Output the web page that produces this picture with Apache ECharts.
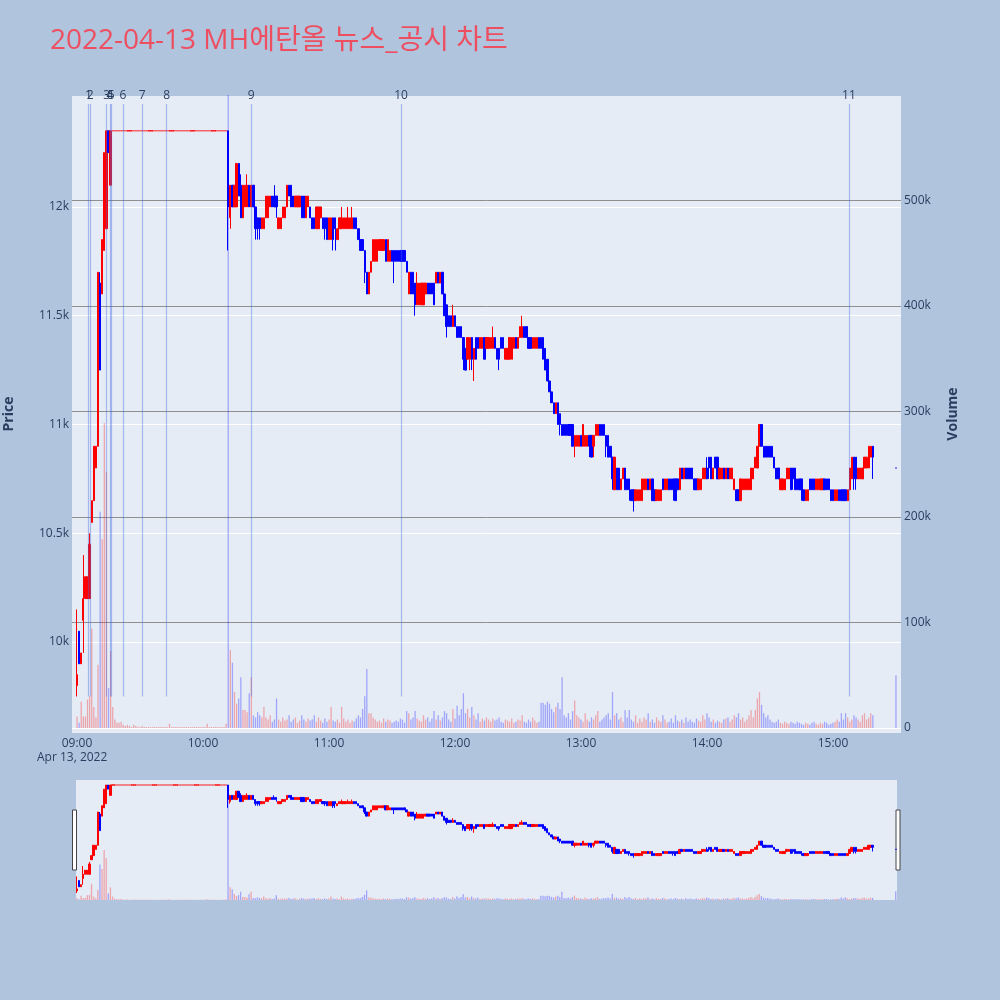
<!DOCTYPE html>
<html><head><meta charset="utf-8">
<script src="https://cdn.jsdelivr.net/npm/echarts@6/dist/echarts.min.js"></script>
<style>html,body{margin:0;padding:0;background:#b0c4de}#c{width:1000px;height:1000px}</style>
</head><body><div id="c"></div>
<script>
// ---- data (minute candles, 2022-04-13) ----
const opens = [
 9800,10050,9900,10100,10200,10200,10200,10550,10650,10800,
 10900,11650,11600,11800,11900,12350,12100,
 12350,12350,12350,12350,12350,12350,12350,12350,12350,12350,12350,
 12350,12350,12350,12350,12350,12350,12350,12350,12350,12350,12350,
 12350,12350,12350,12350,12350,12350,12350,12350,12350,12350,12350,
 12350,12350,12350,12350,12350,12350,12350,12350,12350,12350,12350,
 12350,12350,12350,12350,12350,12350,12350,12350,12350,12350,12350,
 12350,11950,12100,12000,12000,12200,12100,11950,
 12000,12000,12100,12000,12100,12000,11950,11950,11900,11900,
 11950,11950,12000,12050,12050,12050,11900,11900,11950,11950,
 12000,12100,12100,12050,12000,12000,12000,12050,12050,11950,
 12000,12000,11950,11950,11900,11900,11950,11950,11950,11950,
 11850,11850,11950,11950,11850,11900,11900,11900,11900,11900,
 11900,11900,11950,11950,11900,11850,11850,11800,11700,11600,
 11700,11750,11750,11750,11800,11800,11800,11850,11750,11750,
 11800,11800,11800,11800,11800,11800,11800,11750,11600,11700,
 11700,11650,11550,11550,11550,11550,11600,11650,11650,11650,
 11650,11650,11700,11650,11700,11600,11550,11500,11500,11450,
 11500,11450,11450,11450,11400,11350,11300,11300,11400,11300,
 11400,11400,11350,11350,11400,11350,11350,11350,11350,11400,
 11350,11350,11400,11400,11300,11300,11300,11300,11350,11400,
 11350,11400,11400,11450,11450,11400,11400,11350,11350,11350,
 11400,11400,11400,11350,11300,11200,11150,11100,11050,11100,
 11050,11000,11000,11000,11000,11000,11000,10900,10900,10900,
 10950,10900,10900,10900,10950,10950,10900,10950,10950,11000,
 11000,11000,10950,10950,10900,10850,10700,10800,10800,10700,
 10750,10800,10750,10750,10700,10700,10650,10650,10650,10650,
 10700,10700,10750,10700,10750,10700,10650,10650,10650,10750,
 10700,10700,10750,10750,10750,10750,10750,10700,10800,10750,
 10800,10800,10800,10800,10750,10750,10700,10700,10750,10750,
 10800,10850,10850,10750,10850,10850,10750,10750,10800,10750,
 10800,10750,10750,10700,10700,10700,10650,10700,10700,10700,
 10700,10700,10750,10800,10800,10900,11000,10900,10900,10900,
 10900,10900,10850,10800,10800,10700,10700,10700,10750,10750,
 10800,10800,10800,10750,10750,10750,10700,10650,10650,10750,
 10750,10750,10700,10700,10700,10700,10750,10750,10750,10700,
 10700,10650,10650,10700,10700,10700,10700,10650,10700,10750,
 10850,10850,10750,10750,10750,10800,10800,10800,10850,10900,
 10800
];
const highs = [
 10150,10050,9950,10400,10300,10300,10500,10650,10900,10900,
 11700,11700,11850,12250,12350,12350,12350,
 12350,12350,12350,12350,12350,12350,12350,12350,12350,12350,12350,
 12350,12350,12350,12350,12350,12350,12350,12350,12350,12350,12350,
 12350,12350,12350,12350,12350,12350,12350,12350,12350,12350,12350,
 12350,12350,12350,12350,12350,12350,12350,12350,12350,12350,12350,
 12350,12350,12350,12350,12350,12350,12350,12350,12350,12350,12350,
 12350,12100,12100,12100,12200,12200,12150,12100,
 12100,12150,12100,12100,12100,12000,11950,11950,11950,11950,
 12050,12050,12050,12050,12100,12050,11950,11950,12000,12000,
 12100,12100,12100,12050,12050,12050,12050,12050,12050,12050,
 12050,12000,11950,11950,12000,12000,12000,11950,11950,11950,
 11950,11950,11950,11950,11900,11950,12000,11950,11950,12000,
 11950,12000,11950,11950,11900,11850,11850,11800,11700,11700,
 11750,11850,11850,11850,11850,11850,11850,11850,11850,11800,
 11800,11800,11800,11800,11800,11800,11800,11750,11700,11700,
 11700,11650,11700,11650,11650,11650,11650,11650,11650,11650,
 11650,11700,11700,11700,11700,11600,11550,11500,11500,11550,
 11500,11450,11450,11450,11400,11350,11400,11400,11400,11350,
 11400,11400,11400,11400,11400,11400,11400,11400,11450,11400,
 11350,11350,11400,11400,11350,11350,11400,11400,11400,11400,
 11400,11450,11500,11450,11450,11400,11400,11400,11400,11400,
 11400,11400,11400,11350,11300,11200,11150,11100,11100,11100,
 11050,11000,11000,11000,11000,11000,11000,10950,10950,10950,
 10950,11000,10950,10950,10950,10950,10950,11000,11000,11000,
 11000,11000,10950,10950,10900,10850,10850,10800,10800,10750,
 10800,10800,10750,10750,10700,10700,10700,10700,10700,10750,
 10750,10750,10750,10750,10750,10700,10700,10700,10700,10750,
 10750,10750,10750,10750,10750,10750,10750,10800,10800,10800,
 10800,10800,10800,10800,10750,10750,10750,10750,10800,10800,
 10850,10850,10850,10800,10850,10850,10800,10800,10800,10800,
 10800,10800,10800,10750,10700,10700,10750,10750,10750,10750,
 10750,10800,10800,10850,10900,11000,11000,10900,10900,10900,
 10900,10900,10850,10800,10800,10750,10750,10750,10800,10800,
 10800,10800,10800,10750,10750,10750,10700,10700,10700,10750,
 10750,10750,10750,10750,10750,10750,10750,10750,10750,10700,
 10700,10700,10700,10700,10700,10700,10700,10700,10800,10850,
 10850,10850,10800,10800,10800,10850,10850,10900,10900,10900,
 10800
];
const lows = [
 9750,9900,9900,9950,10200,10200,10200,10550,10650,10800,
 10900,11250,11600,11800,11900,12250,12100,
 12350,12350,12350,12350,12350,12350,12350,12350,12350,12350,12350,
 12350,12350,12350,12350,12350,12350,12350,12350,12350,12350,12350,
 12350,12350,12350,12350,12350,12350,12350,12350,12350,12350,12350,
 12350,12350,12350,12350,12350,12350,12350,12350,12350,12350,12350,
 12350,12350,12350,12350,12350,12350,12350,12350,12350,12350,12350,
 11800,11900,12000,12000,12000,12050,11950,11950,
 12000,12000,12000,12000,12000,11850,11850,11850,11900,11900,
 11950,11950,12000,12000,12000,11950,11900,11900,11950,11950,
 12000,12050,12000,12000,12000,12000,12000,11950,11950,11950,
 12000,11950,11900,11900,11900,11900,11950,11900,11850,11850,
 11850,11850,11800,11800,11850,11900,11900,11900,11900,11900,
 11900,11900,11900,11900,11850,11800,11800,11650,11600,11600,
 11700,11750,11750,11750,11800,11800,11800,11750,11750,11750,
 11750,11650,11750,11750,11750,11750,11750,11700,11600,11600,
 11600,11500,11550,11550,11550,11550,11600,11600,11600,11600,
 11550,11650,11650,11650,11600,11500,11400,11450,11450,11450,
 11450,11400,11400,11400,11250,11250,11300,11250,11250,11200,
 11300,11350,11350,11350,11300,11350,11350,11350,11350,11350,
 11300,11250,11350,11350,11300,11300,11300,11300,11350,11350,
 11350,11400,11400,11400,11400,11350,11350,11350,11350,11350,
 11350,11350,11300,11250,11200,11150,11100,11050,11050,11000,
 10950,10950,10950,10950,10950,10950,10900,10850,10900,10900,
 10900,10900,10900,10900,10850,10850,10850,10950,10950,10950,
 10950,10950,10850,10850,10850,10700,10700,10700,10700,10700,
 10750,10700,10700,10650,10650,10600,10650,10650,10650,10650,
 10700,10700,10700,10700,10650,10650,10650,10650,10650,10700,
 10700,10700,10700,10700,10650,10650,10700,10700,10750,10750,
 10750,10750,10750,10750,10700,10700,10700,10700,10750,10750,
 10750,10750,10750,10750,10800,10750,10750,10750,10750,10750,
 10750,10750,10750,10700,10650,10650,10650,10700,10700,10700,
 10700,10700,10750,10800,10800,10900,10900,10850,10850,10850,
 10850,10850,10800,10750,10750,10700,10700,10700,10750,10750,
 10700,10700,10700,10700,10700,10650,10650,10650,10650,10700,
 10700,10700,10700,10700,10700,10700,10700,10700,10700,10650,
 10650,10650,10650,10650,10650,10650,10650,10650,10700,10750,
 10700,10700,10750,10750,10750,10800,10800,10800,10850,10750,
 10800
];
const closes = [
 9850,9900,9950,10200,10300,10300,10450,10650,10900,10900,
 11700,11250,11850,12250,12350,12250,12350,
 12350,12350,12350,12350,12350,12350,12350,12350,12350,12350,12350,
 12350,12350,12350,12350,12350,12350,12350,12350,12350,12350,12350,
 12350,12350,12350,12350,12350,12350,12350,12350,12350,12350,12350,
 12350,12350,12350,12350,12350,12350,12350,12350,12350,12350,12350,
 12350,12350,12350,12350,12350,12350,12350,12350,12350,12350,12350,
 12000,12100,12000,12100,12200,12050,11950,12100,
 12100,12100,12000,12100,12000,11900,11900,11900,11950,11950,
 12050,12050,12050,12000,12000,12000,11950,11950,12000,12000,
 12100,12050,12000,12000,12050,12050,12050,11950,11950,12050,
 12050,11950,11900,11900,12000,12000,12000,11900,11900,11850,
 11950,11950,11850,11900,11900,11950,11950,11950,11950,11950,
 11950,11950,11900,11900,11850,11800,11800,11700,11600,11700,
 11750,11850,11850,11850,11850,11850,11850,11750,11850,11800,
 11750,11750,11750,11750,11750,11750,11750,11700,11700,11600,
 11600,11550,11650,11650,11650,11650,11650,11600,11600,11600,
 11550,11700,11650,11700,11600,11500,11450,11450,11450,11500,
 11450,11400,11400,11400,11300,11250,11400,11400,11300,11350,
 11300,11350,11400,11400,11300,11400,11400,11400,11400,11350,
 11300,11300,11350,11350,11350,11350,11400,11400,11400,11350,
 11400,11450,11450,11400,11400,11350,11350,11400,11400,11400,
 11350,11350,11300,11250,11200,11150,11100,11050,11100,11000,
 11000,10950,10950,10950,10950,10950,10900,10950,10950,10950,
 10900,11000,10950,10950,10900,10850,10950,11000,11000,10950,
 10950,10950,10900,10850,10850,10750,10850,10700,10700,10750,
 10800,10700,10700,10700,10650,10650,10700,10700,10700,10750,
 10750,10750,10700,10750,10650,10650,10700,10700,10700,10700,
 10750,10750,10700,10700,10700,10650,10700,10800,10750,10800,
 10750,10750,10750,10750,10700,10700,10750,10750,10800,10800,
 10750,10800,10750,10800,10800,10750,10800,10800,10750,10800,
 10750,10800,10800,10750,10650,10650,10750,10750,10750,10750,
 10750,10800,10800,10850,10900,11000,10900,10850,10850,10850,
 10850,10850,10800,10750,10750,10750,10750,10750,10800,10800,
 10700,10750,10700,10700,10700,10700,10650,10700,10700,10700,
 10700,10700,10750,10750,10750,10750,10700,10700,10700,10650,
 10650,10700,10700,10650,10650,10650,10650,10700,10800,10850,
 10750,10750,10800,10800,10800,10850,10850,10900,10900,10850,
 10800
];
// volume in thousands of shares
const volumeThousands = [
 11,5,25,11,11,27,30,94,20,10,
 60,205,179,289,243,38,73,
 20,8,5,5,6,3,2,3,2,1,3,
 2,1,1,2,1,1,1,1,1,1,1,
 1,1,1,1,1,4,1,1,1,1,1,
 1,1,1,1,1,1,1,1,1,1,1,
 1,4,1,1,1,1,1,1,1,1,4,
 660,74,62,34,23,28,48,17,
 17,15,33,48,12,10,15,12,10,20,
 10,8,12,6,8,28,8,6,10,7,
 8,12,6,8,10,5,7,12,8,6,
 9,7,8,12,6,10,7,5,9,6,
 8,20,7,6,8,5,20,9,6,8,
 5,7,6,9,12,10,18,30,56,14,
 14,10,8,6,7,5,9,6,8,7,
 5,6,7,6,9,8,5,16,14,8,
 10,16,9,7,6,12,8,10,6,9,
 16,8,12,7,10,16,14,8,6,18,
 9,21,12,18,33,14,18,10,20,12,
 8,14,6,9,7,10,8,6,9,7,
 8,10,6,5,8,7,6,9,5,6,
 8,7,12,6,5,8,6,10,7,5,
 6,24,24,22,25,23,18,15,20,24,
 18,48,12,10,14,8,16,26,12,10,
 8,6,14,8,6,10,8,12,16,6,
 8,10,12,14,8,34,12,14,8,10,
 6,17,10,17,8,6,12,5,9,6,
 10,8,14,6,8,5,10,7,6,12,
 8,5,6,9,5,12,7,6,8,5,
 10,6,8,6,5,9,7,6,12,8,
 14,10,6,8,5,7,6,5,8,9,
 10,6,8,12,10,14,8,10,6,8,
 12,17,10,17,28,34,22,14,10,12,
 8,6,5,6,8,5,4,6,5,4,
 6,5,4,6,5,4,3,5,4,3,
 5,6,4,3,5,4,6,5,3,4,
 5,6,8,6,14,8,14,10,6,8,
 12,10,8,6,12,14,8,10,14,12,
 50
];
// minutes after 09:00 (regular minutes 09:00-15:19, closing auction 15:30)
const minutes = [];
for (let i = 0; i < 380; i++) minutes.push(i);
minutes.push(390);
// news / disclosure event times (minutes after 09:00) and labels
const eventMinutes = [5.4, 6.2, 14.1, 15.7, 16.2, 21.8, 31.0, 42.7, 82.9, 154.3, 367.6];
const eventLabels = ['1','2','3','4','5','6','7','8','9','10','11'];
const priceTicks = [10000, 10500, 11000, 11500, 12000];
const hourTicks = [0, 60, 120, 180, 240, 300, 360];
const titleText = '2022-04-13 MH에탄올 뉴스_공시 차트';

// ---- build ----
const UP = '#ff0000', DOWN = '#0000ff', TXT = '#2a3f5f', PLOT = '#e5ecf6';
const FONT = '"Open Sans", "Noto Sans CJK KR", sans-serif';
const isUp = i => closes[i] > opens[i] ? true : closes[i] < opens[i] ? false : (i === 0 || closes[i - 1] <= closes[i]);
const candleData = minutes.map((m, i) => [m, opens[i], closes[i], lows[i], highs[i]]);
const volData = minutes.map((m, i) => [m, volumeThousands[i] * 1000]);
const volColor = p => isUp(p.dataIndex) ? 'rgba(255,0,0,0.3)' : 'rgba(0,0,255,0.3)';
const lineLow = Math.min(...lows), lineHigh = Math.max(...highs) * 1.01;
const markData = eventMinutes.map((m, i) => [
  { coord: [m, lineLow], label: { formatter: eventLabels[i] } },
  { coord: [m, lineHigh] }
]);
const pad = n => (n < 10 ? '0' : '') + n;

const chart = echarts.init(document.getElementById('c'), null, { renderer: 'canvas' });
chart.setOption({
  backgroundColor: '#b0c4de',
  animation: false,
  textStyle: { fontFamily: FONT },
  title: {
    text: titleText, left: 50, top: 27, padding: 0,
    textStyle: { fontSize: 28, fontWeight: 'normal', color: '#ed4f60', fontFamily: FONT }
  },
  grid: [
    { left: 72, right: 99, top: 96, bottom: 267, show: true, backgroundColor: PLOT, borderWidth: 0 },
    { left: 72, right: 99, top: 95, bottom: 272, show: false },
    { left: 76, right: 103, top: 780, bottom: 100, show: true, backgroundColor: PLOT, borderWidth: 0 },
    { left: 76, right: 103, top: 780, bottom: 100, show: false }
  ],
  xAxis: [
    { type: 'value', gridIndex: 0, min: -2.4, max: 392.4,
      axisLine: { show: false }, splitLine: { show: false },
      axisTick: { show: false, customValues: hourTicks },
      axisLabel: { customValues: hourTicks, color: TXT, fontSize: 12, margin: 5, fontFamily: FONT,
        formatter: v => pad(9 + Math.floor(v / 60)) + ':' + pad(v % 60) } },
    { type: 'value', gridIndex: 1, min: -2.4, max: 392.4, show: false },
    { type: 'value', gridIndex: 2, min: -0.4, max: 390.6, show: false },
    { type: 'value', gridIndex: 3, min: -0.4, max: 390.6, show: false }
  ],
  yAxis: [
    { type: 'value', gridIndex: 0, min: 9582, max: 12510, scale: true,
      axisLine: { show: false },
      axisTick: { show: false, customValues: priceTicks },
      axisLabel: { customValues: priceTicks, color: TXT, fontSize: 12, margin: 3, fontFamily: FONT,
        formatter: v => (v / 1000) + 'k' },
      splitLine: { show: true, lineStyle: { color: '#ffffff', width: 1 } } },
    { type: 'value', gridIndex: 1, position: 'right', min: 0, max: 600000, interval: 100000,
      axisLine: { show: false }, axisTick: { show: false },
      axisLabel: { color: TXT, fontSize: 12, margin: 3, fontFamily: FONT,
        formatter: v => v === 0 ? '0' : (v >= 600000 ? '' : (v / 1000) + 'k') },
      splitLine: { show: true, lineStyle: { width: 1,
        color: ['#ffffff', '#8f8f8f', '#8f8f8f', '#8f8f8f', '#8f8f8f', '#8f8f8f', 'rgba(0,0,0,0)'] } } },
    { type: 'value', gridIndex: 2, min: 9582, max: 12470, show: false },
    { type: 'value', gridIndex: 3, min: 0, max: 694000, show: false }
  ],
  series: [
    { type: 'bar', xAxisIndex: 1, yAxisIndex: 1, data: volData, barWidth: 1.3, z: 1,
      itemStyle: { color: volColor }, silent: true },
    { type: 'candlestick', xAxisIndex: 0, yAxisIndex: 0, data: candleData, barWidth: 1.8, z: 3,
      itemStyle: { color: UP, color0: DOWN, borderColor: UP, borderColor0: DOWN, borderWidth: 1 },
      markLine: { silent: true, symbol: ['none', 'none'], animation: false,
        lineStyle: { color: 'rgba(65,105,225,0.4)', width: 1.2, type: 'solid' },
        label: { show: true, position: 'end', distance: 2, color: TXT, fontSize: 12, fontFamily: FONT },
        emphasis: { disabled: true },
        data: markData } },
    { type: 'bar', xAxisIndex: 3, yAxisIndex: 3, data: volData, barWidth: 1.3, z: 1,
      itemStyle: { color: volColor }, silent: true },
    { type: 'candlestick', xAxisIndex: 2, yAxisIndex: 2, data: candleData, barWidth: 1.8, z: 3,
      itemStyle: { color: UP, color0: DOWN, borderColor: UP, borderColor0: DOWN, borderWidth: 1 }, silent: true }
  ],
  graphic: [
    { type: 'text', left: 37, top: 752, style: { text: 'Apr 13, 2022', fill: TXT, fontSize: 12, fontFamily: FONT } },
    { type: 'text', x: 9, y: 414, rotation: Math.PI / 2,
      style: { text: 'Price', fill: TXT, fontSize: 14, fontWeight: 'bold', fontFamily: FONT, align: 'center', verticalAlign: 'middle' } },
    { type: 'text', x: 953, y: 414, rotation: Math.PI / 2,
      style: { text: 'Volume', fill: TXT, fontSize: 14, fontWeight: 'bold', fontFamily: FONT, align: 'center', verticalAlign: 'middle' } },
    { type: 'rect', shape: { x: 72.5, y: 810, width: 4, height: 60 }, style: { fill: '#ffffff', stroke: '#444', lineWidth: 1 } },
    { type: 'rect', shape: { x: 896, y: 810, width: 4, height: 60 }, style: { fill: '#ffffff', stroke: '#444', lineWidth: 1 } }
  ]
});
</script>
</body></html>
